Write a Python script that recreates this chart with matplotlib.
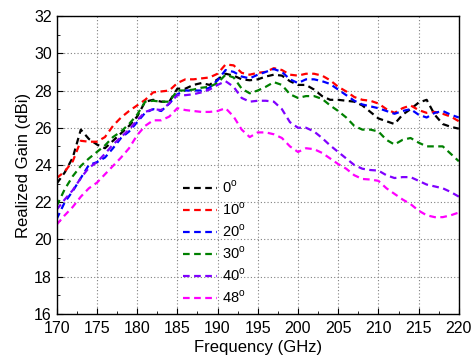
import matplotlib
matplotlib.use("Agg")
import matplotlib.pyplot as plt
from matplotlib.ticker import MultipleLocator

plt.rcParams["font.family"] = ["Liberation Sans", "DejaVu Sans"]
plt.rcParams["mathtext.fontset"] = "custom"
plt.rcParams["mathtext.rm"] = "Liberation Sans"

freq = list(range(170, 221))

g0 = [23.0, 23.6, 24.4, 25.9, 25.4, 25.1, 24.9, 25.3, 25.7, 26.1,
      26.6, 27.4, 27.5, 27.4, 27.4, 28.1, 28.1, 28.3, 28.4, 28.3,
      28.6, 28.9, 28.8, 28.6, 28.55, 28.6, 28.75, 28.85, 28.8, 28.5,
      28.3, 28.3, 28.05, 27.7, 27.5, 27.5, 27.45, 27.4, 27.2, 26.85,
      26.5, 26.35, 26.2, 26.7, 27.0, 27.35, 27.5, 26.7, 26.2, 26.05,
      25.95]
g10 = [23.3, 23.65, 24.2, 25.3, 25.25, 25.25, 25.5, 26.1, 26.55, 26.9,
       27.2, 27.5, 27.9, 27.95, 28.0, 28.4, 28.6, 28.6, 28.65, 28.7,
       28.9, 29.4, 29.35, 28.95, 28.85, 28.95, 29.0, 29.2, 29.1, 28.85,
       28.8, 28.9, 28.9, 28.8, 28.55, 28.2, 27.95, 27.65, 27.5, 27.45,
       27.3, 27.0, 26.8, 27.05, 27.2, 26.95, 26.8, 26.85, 26.75, 26.6,
       26.35]
g20 = [21.1, 22.0, 22.6, 23.3, 24.0, 24.15, 24.4, 24.9, 25.45, 25.8,
       26.3, 26.8, 27.0, 26.9, 27.3, 27.8, 28.0, 28.0, 28.0, 28.15,
       28.55, 29.1, 29.0, 28.75, 28.65, 28.85, 29.0, 29.15, 29.0, 28.6,
       28.4, 28.6, 28.6, 28.5, 28.35, 28.05, 27.75, 27.45, 27.25, 27.15,
       27.05, 26.9, 26.75, 26.9, 27.0, 26.7, 26.55, 26.8, 26.9, 26.7,
       26.55]
g30 = [21.8, 22.7, 23.4, 23.95, 24.35, 24.7, 25.05, 25.5, 25.8, 26.2,
       26.7, 27.4, 27.45, 27.4, 27.4, 28.0, 28.0, 28.05, 28.15, 28.2,
       28.4, 28.85, 28.7, 28.1, 27.85, 28.0, 28.2, 28.45, 28.3, 27.8,
       27.6, 27.7, 27.7, 27.55, 27.2, 26.9, 26.55, 26.1, 25.9, 25.9,
       25.8, 25.35, 25.1, 25.35, 25.45, 25.2, 25.0, 25.0, 25.0, 24.6,
       24.2]
g40 = [21.6, 22.15, 22.65, 23.3, 23.85, 24.15, 24.6, 25.1, 25.5, 25.9,
       26.4, 26.85, 27.0, 26.95, 27.3, 27.75, 27.75, 27.8, 27.9, 28.05,
       28.3, 28.5, 28.2, 27.6, 27.4, 27.45, 27.45, 27.4, 27.0, 26.3,
       26.0, 26.0, 25.8, 25.45, 25.05, 24.7, 24.35, 24.0, 23.8, 23.73,
       23.7, 23.45, 23.3, 23.35, 23.35, 23.15, 22.95, 22.85, 22.75, 22.55,
       22.3]
g48 = [20.8, 21.3, 21.75, 22.3, 22.75, 23.05, 23.5, 23.95, 24.4, 24.9,
       25.6, 26.1, 26.4, 26.4, 26.6, 27.05, 26.95, 26.9, 26.85, 26.85,
       26.9, 27.05, 26.6, 25.9, 25.5, 25.75, 25.75, 25.65, 25.45, 25.0,
       24.7, 24.9, 24.85, 24.65, 24.35, 24.05, 23.8, 23.45, 23.25, 23.22,
       23.15, 22.75, 22.45, 22.15, 21.9, 21.55, 21.3, 21.2, 21.2, 21.3,
       21.45]

series = [g0, g10, g20, g30, g40, g48]
labels = ["0$^\\mathrm{o}$", "10$^\\mathrm{o}$", "20$^\\mathrm{o}$",
          "30$^\\mathrm{o}$", "40$^\\mathrm{o}$", "48$^\\mathrm{o}$"]
colors = ["black", "red", "blue", "green", "#8000ff", "#ff00ff"]

fig = plt.figure(figsize=(4.74, 3.64), dpi=100)
ax = fig.add_axes([0.1196, 0.1374, 0.8484, 0.8186])

for y, lab, c in zip(series, labels, colors):
    ax.plot(freq, y, color=c, linestyle=(0, (3, 2)), linewidth=1.6, label=lab)

ax.set_xlim(170, 220)
ax.set_ylim(16, 32)
ax.xaxis.set_major_locator(MultipleLocator(5))
ax.xaxis.set_minor_locator(MultipleLocator(2.5))
ax.yaxis.set_major_locator(MultipleLocator(2))
ax.yaxis.set_minor_locator(MultipleLocator(1))
ax.tick_params(which="both", direction="in", labelsize=11.5)
ax.tick_params(which="major", length=4)
ax.tick_params(which="minor", length=2)
ax.tick_params(axis="x", pad=5)
ax.grid(True, which="major", color="gray", linestyle=(0, (1, 2)), linewidth=0.8)
for s in ax.spines.values():
    s.set_linewidth(1.0)

ax.set_xlabel("Frequency (GHz)", fontsize=12, labelpad=3)
ax.set_ylabel("Realized Gain (dBi)", fontsize=12, labelpad=2)

leg = ax.legend(loc="upper left", bbox_to_anchor=(0.307, 0.462), frameon=False,
                fontsize=10.5, handlelength=2.3, handletextpad=0.4,
                labelspacing=0.36, borderpad=0.2, borderaxespad=0)
leg.set_zorder(5)

fig.savefig("out.png", dpi=100)
